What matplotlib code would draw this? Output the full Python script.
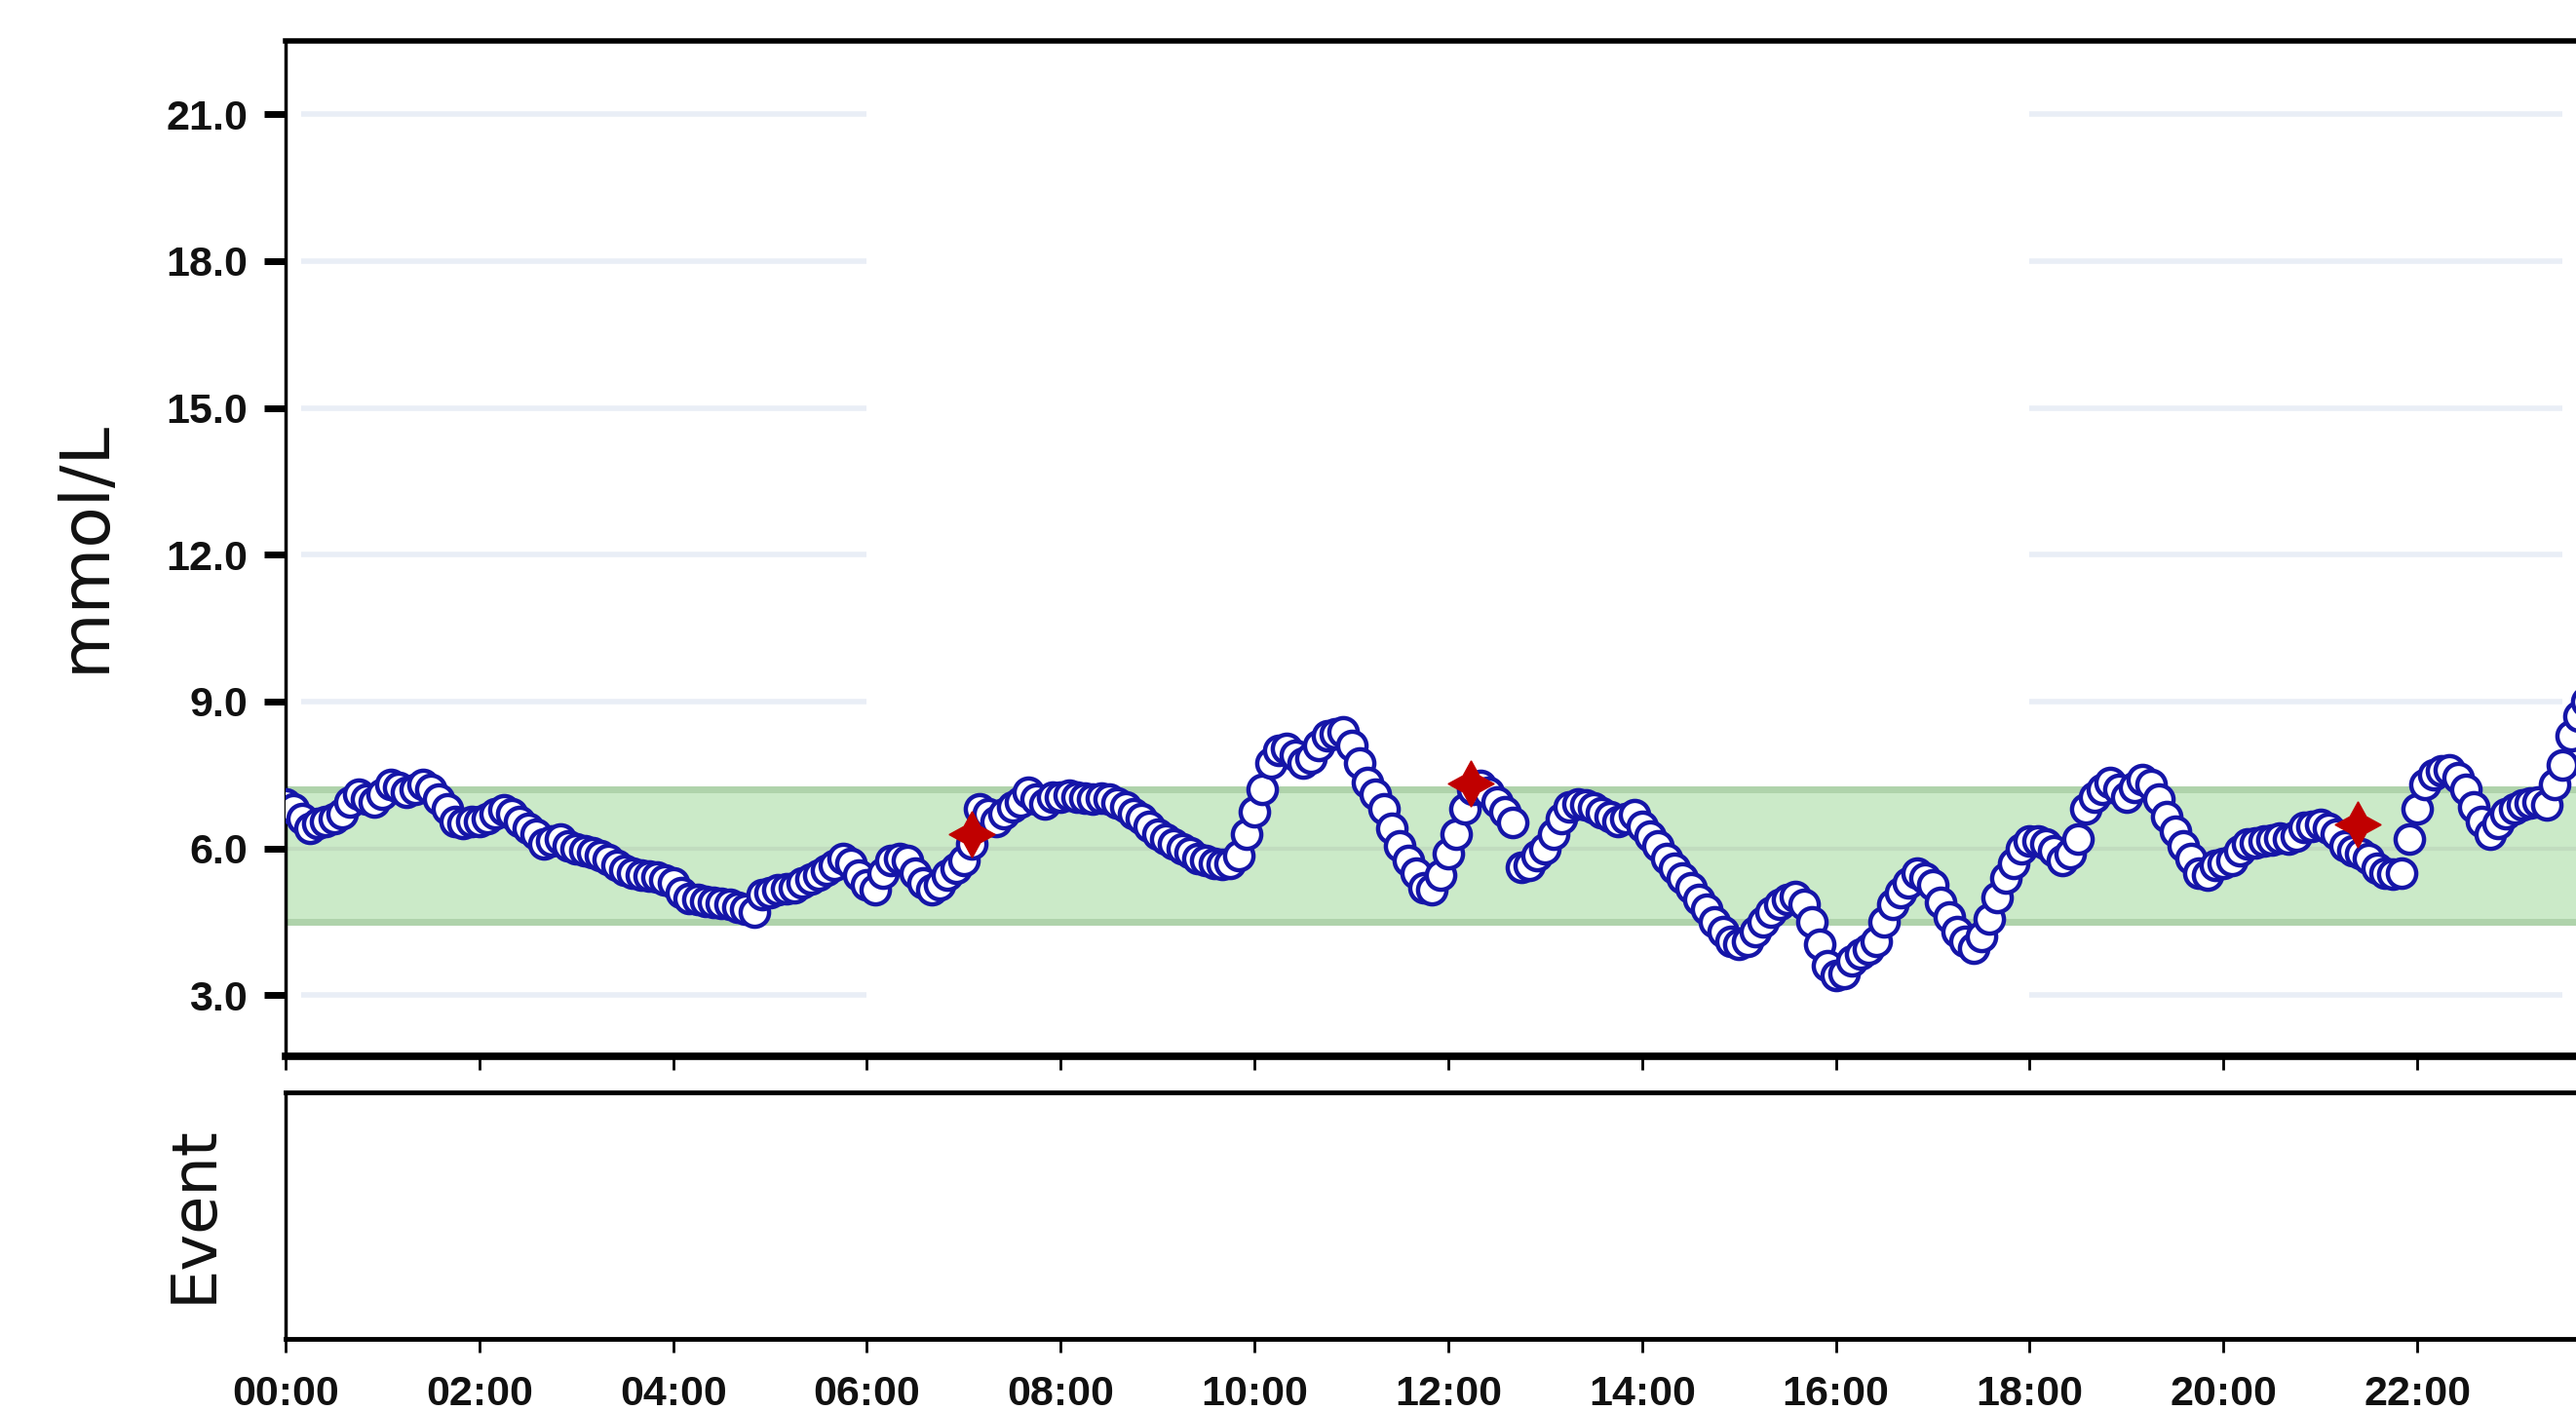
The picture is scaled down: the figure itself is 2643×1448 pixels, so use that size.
import numpy as np
import matplotlib
matplotlib.use("Agg")
import matplotlib.pyplot as plt
from matplotlib import font_manager as fm

# ---------------- data ----------------
interval_min = 5  # CGM sampling interval (minutes), first reading at 00:00
glucose = [
    6.9, 6.8, 6.6, 6.4, 6.5, 6.55, 6.6, 6.7, 6.95, 7.1, 7.0, 6.95,          # 00h
    7.1, 7.3, 7.25, 7.15, 7.2, 7.3, 7.2, 7.0, 6.8, 6.55, 6.5, 6.55,         # 01h
    6.55, 6.6, 6.7, 6.78, 6.7, 6.55, 6.4, 6.3, 6.1, 6.15, 6.2, 6.05,        # 02h
    6.0, 5.95, 5.92, 5.85, 5.78, 5.65, 5.55, 5.5, 5.46, 5.44, 5.42, 5.35,   # 03h
    5.3, 5.1, 4.98, 4.95, 4.92, 4.9, 4.88, 4.85, 4.8, 4.75, 4.7, 5.05,      # 04h
    5.1, 5.15, 5.18, 5.2, 5.3, 5.38, 5.45, 5.55, 5.65, 5.8, 5.7, 5.45,      # 05h
    5.25, 5.15, 5.5, 5.75, 5.8, 5.75, 5.5, 5.3, 5.16, 5.25, 5.45, 5.6,      # 06h
    5.75, 6.1, 6.8, 6.7, 6.55, 6.7, 6.85, 6.95, 7.15, 7.0, 6.9, 7.05,       # 07h
    7.05, 7.08, 7.05, 7.02, 7.0, 7.02, 7.0, 6.92, 6.85, 6.7, 6.6, 6.45,     # 08h
    6.3, 6.2, 6.1, 6.0, 5.92, 5.8, 5.75, 5.7, 5.68, 5.7, 5.85, 6.3,         # 09h
    6.75, 7.2, 7.75, 8.0, 8.05, 7.9, 7.75, 7.85, 8.1, 8.3, 8.35, 8.38,      # 10h
    8.1, 7.75, 7.35, 7.1, 6.8, 6.4, 6.05, 5.75, 5.5, 5.2, 5.15, 5.45,       # 11h
    5.9, 6.3, 6.8, 7.2, 7.28, 7.15, 6.95, 6.75, 6.52, 5.62, 5.66, 5.85,     # 12h
    6.0, 6.3, 6.6, 6.85, 6.9, 6.88, 6.82, 6.72, 6.65, 6.55, 6.6, 6.68,      # 13h
    6.45, 6.25, 6.05, 5.8, 5.6, 5.4, 5.2, 4.95, 4.75, 4.5, 4.3, 4.1,        # 14h
    4.05, 4.1, 4.3, 4.5, 4.7, 4.85, 4.95, 5.02, 4.85, 4.5, 4.05, 3.6,       # 15h
    3.4, 3.45, 3.7, 3.85, 3.95, 4.1, 4.5, 4.85, 5.1, 5.3, 5.5, 5.4,         # 16h
    5.25, 4.9, 4.6, 4.3, 4.1, 3.97, 4.2, 4.55, 5.0, 5.4, 5.7, 6.0,          # 17h
    6.15, 6.15, 6.1, 5.95, 5.75, 5.9, 6.2, 6.8, 7.05, 7.2, 7.35, 7.2,       # 18h
    7.05, 7.25, 7.4, 7.3, 7.0, 6.65, 6.35, 6.05, 5.8, 5.5, 5.45, 5.65,      # 19h
    5.7, 5.75, 5.95, 6.1, 6.12, 6.15, 6.18, 6.22, 6.2, 6.25, 6.42, 6.45,    # 20h
    6.48, 6.4, 6.3, 6.05, 5.95, 5.9, 5.8, 5.6, 5.5, 5.48, 5.5, 6.2,         # 21h
    6.8, 7.3, 7.5, 7.58, 7.6, 7.45, 7.2, 6.85, 6.55, 6.3, 6.5, 6.7,         # 22h
    6.8, 6.88, 6.92, 6.95, 6.88, 7.3, 7.7, 8.3, 8.7, 9.0, 9.2, 9.3,         # 23h
]
# finger-stick / calibration events (hour of day, mmol/L)
event_hours = [7.08, 12.23, 21.38]
event_values = [6.3, 7.32, 6.48]

target_low, target_high = 4.5, 7.2
y_ticks = [3.0, 6.0, 9.0, 12.0, 15.0, 18.0, 21.0]
x_ticks = list(range(0, 24, 2))
x_labels = ["00:00", "02:00", "04:00", "06:00", "08:00", "10:00",
            "12:00", "14:00", "16:00", "18:00", "20:00", "22:00"]

# ---------------- fonts ----------------
def available(name):
    try:
        fm.findfont(fm.FontProperties(family=name), fallback_to_default=False)
        return True
    except Exception:
        return False

narrow = None
for cand in ["Liberation Sans Narrow", "DejaVu Sans Condensed", "Arial Narrow"]:
    if available(cand):
        narrow = cand
        break
if narrow:
    tick_family, xt_size, yt_size = narrow, 35, 35
else:
    tick_family, xt_size, yt_size = "Liberation Sans", 31, 31

# ---------------- figure ----------------
W, H = 2643, 1448
fig = plt.figure(figsize=(W / 100, H / 100), dpi=100)
fig.patch.set_facecolor("white")

left = 293 / W
width = 2386 / W
ax = fig.add_axes([left, 1 - 1084 / H, width, (1084 - 42) / H])
ax2 = fig.add_axes([left, 1 - 1374 / H, width, (1374 - 1121) / H])

t = np.arange(len(glucose)) * interval_min / 60.0

ax.set_xlim(0, 24)
ax.set_ylim(1.75, 22.5)

# faint grid segments (under the band)
for yv in y_ticks:
    ax.hlines(yv, 0.16, 6.0, color="#e9eef6", lw=4, zorder=0.2)
    ax.hlines(yv, 18.0, 23.5, color="#e9eef6", lw=4, zorder=0.2)

# target band
ax.axhspan(target_low, target_high, facecolor="#cbeac8", edgecolor="none", zorder=0.4)
for yv in (target_low, target_high):
    ax.axhline(yv, color="#afd3ab", lw=5, zorder=0.5)
for yv in y_ticks:
    if target_low < yv < target_high:
        ax.axhline(yv, color="#c1dcbf", lw=3, zorder=0.6)

ax.plot(t, glucose, ls="none", marker="o", ms=21, mfc="white",
        mec="#1515a8", mew=3.2, zorder=3)
ax.plot(event_hours, event_values, ls="none", marker=(4, 1, 0), ms=34,
        color="#c00000", mec="#c00000", zorder=4)

ax.set_yticks(y_ticks)
ax.set_yticklabels([f"{v:.1f}" for v in y_ticks], family=tick_family,
                   fontweight="bold", fontsize=yt_size, color="#111111")
ax.tick_params(axis="y", direction="out", length=16, width=5, pad=12, color="black")
ax.set_xticks(x_ticks)
ax.tick_params(axis="x", direction="out", length=10, width=2, labelbottom=False,
               color="black")

ax.spines["top"].set_linewidth(4)
ax.spines["bottom"].set_linewidth(5.5)
ax.spines["left"].set_linewidth(2.5)
ax.spines["right"].set_visible(False)

# event panel
ax2.set_xlim(0, 24)
ax2.set_ylim(0, 1)
ax2.set_yticks([])
ax2.set_xticks(x_ticks)
ax2.set_xticklabels(x_labels, family=tick_family, fontweight="bold",
                    fontsize=xt_size, color="#111111")
ax2.tick_params(axis="x", direction="out", length=10, width=2, pad=17, color="black")
ax2.spines["top"].set_linewidth(3.5)
ax2.spines["bottom"].set_linewidth(3.5)
ax2.spines["left"].set_linewidth(2.5)
ax2.spines["right"].set_visible(False)

fig.text(87 / W, 1 - 560 / H, "mmol/L", rotation=90, ha="center", va="center",
         fontsize=50, family="DejaVu Sans", color="#111111")
fig.text(199 / W, 1 - 1246 / H, "Event", rotation=90, ha="center", va="center",
         fontsize=46, family="DejaVu Sans", color="#111111")

fig.savefig("out.png", dpi=100, facecolor=fig.get_facecolor())
